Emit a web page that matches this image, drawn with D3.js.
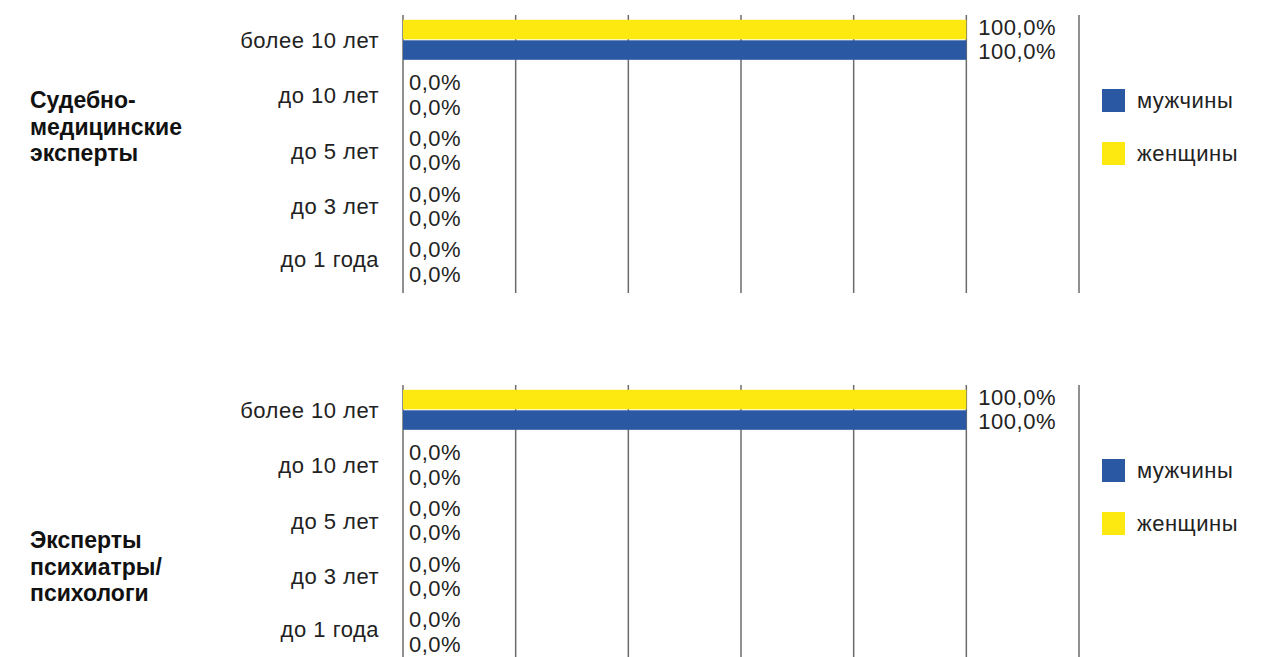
<!DOCTYPE html>
<html>
<head>
<meta charset="utf-8">
<script src="https://cdn.jsdelivr.net/npm/d3@7"></script>
<style>
  body { margin: 0; background: #fff; }
  svg { display: block; font-family: "Liberation Sans", Arial, sans-serif; }
</style>
</head>
<body>
<svg id="chart" width="1267" height="657"></svg>
<script>
// data
const categories = ["более 10 лет", "до 10 лет", "до 5 лет", "до 3 лет", "до 1 года"];
const seriesNames = ["женщины", "мужчины"];
const panelTitles = [
  ["Судебно-", "медицинские", "эксперты"],
  ["Эксперты", "психиатры/", "психологи"]
];
const forensicMen   = [100, 0, 0, 0, 0];
const forensicWomen = [100, 0, 0, 0, 0];
const psychMen      = [100, 0, 0, 0, 0];
const psychWomen    = [100, 0, 0, 0, 0];
const xTicks = [0, 20, 40, 60, 80, 100, 120];

const panels = [
  { title: panelTitles[0], women: forensicWomen, men: forensicMen, top: 0, titleY: 100 },
  { title: panelTitles[1], women: psychWomen, men: psychMen, top: 370, titleY: 540 }
];

const colors = { "женщины": "#fde910", "мужчины": "#2a58a3" };

const svg = d3.select("#chart");

const x = d3.scaleLinear().domain([0, 120]).range([403, 1079]);
const y = d3.scaleBand().domain(categories).range([12, 290])
  .paddingInner(0.28).paddingOuter(0.14);
const ySub = d3.scaleBand().domain(seriesNames).range([0, y.bandwidth()]).paddingInner(0.05);

const fmt = v => d3.format(".1f")(v).replace(".", ",") + "%";

panels.forEach(p => {
  const g = svg.append("g").attr("transform", `translate(0,${p.top})`);

  // gridlines
  g.append("g")
    .selectAll("line")
    .data(xTicks)
    .join("line")
      .attr("x1", d => x(d)).attr("x2", d => x(d))
      .attr("y1", 15).attr("y2", 293)
      .attr("stroke", "#6b6b6b")
      .attr("stroke-width", 1.5);

  // bars
  const rows = categories.map((c, i) => ({
    cat: c,
    vals: [
      { s: "женщины", v: p.women[i] },
      { s: "мужчины", v: p.men[i] }
    ]
  }));

  const rowG = g.append("g")
    .selectAll("g")
    .data(rows)
    .join("g")
      .attr("transform", d => `translate(0,${y(d.cat)})`);

  rowG.selectAll("rect")
    .data(d => d.vals)
    .join("rect")
      .attr("x", x(0))
      .attr("y", d => ySub(d.s))
      .attr("width", d => x(d.v) - x(0))
      .attr("height", ySub.bandwidth())
      .attr("fill", d => colors[d.s]);

  rowG.selectAll("text")
    .data(d => d.vals)
    .join("text")
      .attr("x", d => x(d.v) + (d.v > 0 ? 12 : 6))
      .attr("y", d => ySub(d.s) + ySub.bandwidth() / 2 + (d.s === "женщины" ? -2.5 : 1.5))
      .attr("dy", "0.35em")
      .attr("font-size", 22)
      .attr("letter-spacing", 0.5)
      .attr("fill", "#222")
      .text(d => fmt(d.v));

  // category labels
  g.append("g")
    .selectAll("text")
    .data(categories)
    .join("text")
      .attr("x", 379)
      .attr("y", (d, i) => y(d) + y.bandwidth() / 2 - (i === 4 ? 3 : 0))
      .attr("dy", "0.35em")
      .attr("text-anchor", "end")
      .attr("font-size", 22)
      .attr("letter-spacing", 0.5)
      .attr("fill", "#222")
      .text(d => d);

  // panel title
  svg.append("text")
    .attr("x", 30)
    .attr("y", p.titleY)
    .attr("font-size", 23)
    .attr("font-weight", "bold")
    .attr("fill", "#111")
    .selectAll("tspan")
    .data(p.title)
    .join("tspan")
      .attr("x", 30)
      .attr("dy", (d, i) => i === 0 ? "0.35em" : 26.5)
      .text(d => d);

  // legend
  const leg = g.append("g")
    .selectAll("g")
    .data(["мужчины", "женщины"])
    .join("g")
      .attr("transform", (d, i) => `translate(1102,${89 + i * 53})`);
  leg.append("rect")
    .attr("width", 23).attr("height", 23)
    .attr("fill", d => colors[d]);
  leg.append("text")
    .attr("x", 35).attr("y", 11.5)
    .attr("dy", "0.35em")
    .attr("font-size", 22)
    .attr("letter-spacing", 0.5)
    .attr("fill", "#222")
    .text(d => d);
});
</script>
</body>
</html>
